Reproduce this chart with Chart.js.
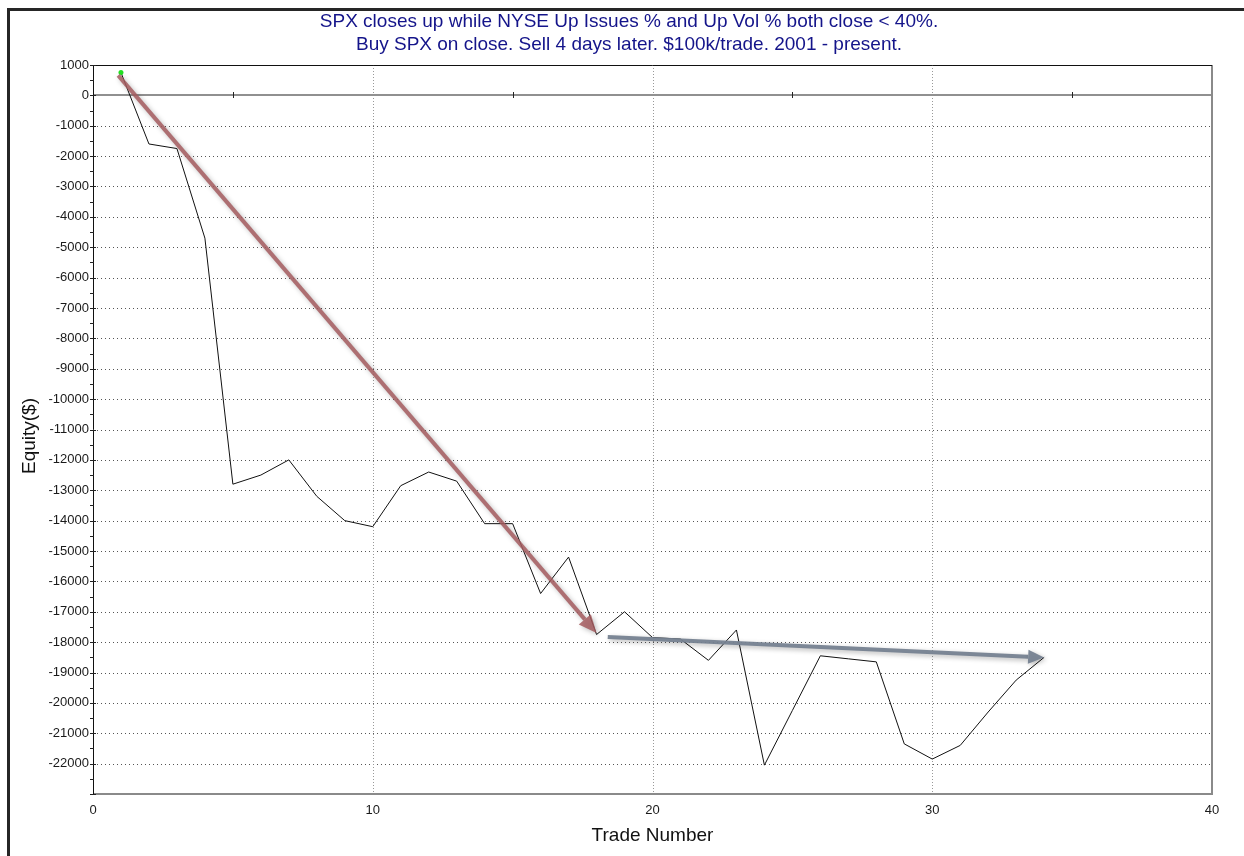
<!DOCTYPE html>
<html>
<head>
<meta charset="utf-8">
<script src="https://cdn.jsdelivr.net/npm/chart.js@4/dist/chart.umd.min.js"></script>
<style>
  html, body { margin: 0; padding: 0; background: #fff; }
  #wrap { width: 1244px; height: 856px; position: relative; }
</style>
</head>
<body>
<div id="wrap"><canvas id="equityChart" width="1244" height="856"></canvas></div>
<script>
// ---- data ----
const trades = [1, 2, 3, 4, 5, 6, 7, 8, 9, 10, 11, 12, 13, 14, 15, 16, 17,
  18, 19, 20, 21, 22, 23, 24, 25, 26, 27, 28, 29, 30, 31, 32, 33, 34];
const equity = [750, -1600, -1750, -4700, -12800, -12500, -12000, -13200, -14000, -14200,
  -12850, -12400, -12700, -14100, -14100, -16400, -15200, -17750, -17000, -17850,
  -17900, -18600, -17600, -22050, -20250, -18450, -18550, -18650, -21350, -21850,
  -21400, -20300, -19250, -18500];

const titleLines = [
  'SPX closes up while NYSE Up Issues % and Up Vol % both close < 40%.',
  'Buy SPX on close. Sell 4 days later. $100k/trade. 2001 - present.'
];
const xTitle = 'Trade Number';
const yTitle = 'Equity($)';

// annotation arrows (trade number, equity)
const redArrowX = [0.9, 18.0];
const redArrowY = [660, -17700];
const greyArrowX = [18.4, 34.0];
const greyArrowY = [-17830, -18510];

const xTicks = [0, 10, 20, 30, 40];
const yMin = -23000, yMax = 1000;

// ---- helpers ----
function drawArrow(ctx, x1, y1, x2, y2, color, width, headLen, headHalf) {
  const ang = Math.atan2(y2 - y1, x2 - x1);
  const bx = x2 - headLen * Math.cos(ang);
  const by = y2 - headLen * Math.sin(ang);
  ctx.save();
  ctx.shadowColor = 'rgba(0,0,0,0.3)';
  ctx.shadowBlur = 5;
  ctx.shadowOffsetX = 2;
  ctx.shadowOffsetY = 2;
  ctx.strokeStyle = color;
  ctx.fillStyle = color;
  ctx.lineWidth = width;
  ctx.lineCap = 'butt';
  ctx.beginPath();
  ctx.moveTo(x1, y1);
  ctx.lineTo(bx, by);
  ctx.stroke();
  ctx.beginPath();
  ctx.moveTo(x2, y2);
  ctx.lineTo(bx + headHalf * Math.sin(ang), by - headHalf * Math.cos(ang));
  ctx.lineTo(bx - headHalf * Math.sin(ang), by + headHalf * Math.cos(ang));
  ctx.closePath();
  ctx.fill();
  ctx.restore();
}

// grid, frame and small ticks under the line
const backPlugin = {
  id: 'backPlugin',
  beforeDatasetsDraw(chart) {
    const { ctx, chartArea: a, scales: { x, y } } = chart;
    ctx.save();
    // horizontal dotted grid
    ctx.strokeStyle = '#555';
    ctx.lineWidth = 1;
    ctx.setLineDash([1, 3]);
    for (let v = -22000; v <= 0; v += 1000) {
      if (v === 0) continue;
      const py = Math.round(y.getPixelForValue(v)) + 0.5;
      ctx.beginPath();
      ctx.moveTo(a.left, py);
      ctx.lineTo(a.right, py);
      ctx.stroke();
    }
    // vertical dotted grid
    ctx.strokeStyle = '#999';
    ctx.setLineDash([1, 2]);
    [10, 20, 30].forEach(v => {
      const px = Math.round(x.getPixelForValue(v)) + 0.5;
      ctx.beginPath();
      ctx.moveTo(px, a.top);
      ctx.lineTo(px, a.bottom);
      ctx.stroke();
    });
    ctx.setLineDash([]);
    // zero line
    const zy = Math.round(y.getPixelForValue(0));
    ctx.strokeStyle = '#909090';
    ctx.lineWidth = 2;
    ctx.beginPath();
    ctx.moveTo(a.left, zy);
    ctx.lineTo(a.right, zy);
    ctx.stroke();
    // ticks on zero line
    ctx.strokeStyle = '#222';
    ctx.lineWidth = 1;
    [5, 15, 25, 35].forEach(v => {
      const px = Math.round(x.getPixelForValue(v)) + 0.5;
      ctx.beginPath();
      ctx.moveTo(px, zy - 3);
      ctx.lineTo(px, zy + 3);
      ctx.stroke();
    });
    // right + bottom border (grey)
    ctx.strokeStyle = '#8a8a8a';
    ctx.lineWidth = 2;
    ctx.beginPath();
    ctx.moveTo(a.right, a.top);
    ctx.lineTo(a.right, a.bottom);
    ctx.lineTo(a.left, a.bottom);
    ctx.stroke();
    // top + left border (black)
    ctx.strokeStyle = '#111';
    ctx.lineWidth = 1;
    ctx.beginPath();
    ctx.moveTo(a.right, a.top + 0.5);
    ctx.lineTo(a.left + 0.5, a.top + 0.5);
    ctx.lineTo(a.left + 0.5, a.bottom);
    ctx.stroke();
    // y ticks every 500
    ctx.strokeStyle = '#222';
    for (let v = yMin; v <= yMax; v += 500) {
      const py = Math.round(y.getPixelForValue(v)) + 0.5;
      const major = v % 1000 === 0;
      ctx.beginPath();
      ctx.moveTo(a.left - 3, py);
      ctx.lineTo(a.left + (major ? 3 : 1), py);
      ctx.stroke();
    }
    ctx.restore();
  },
  afterDatasetsDraw(chart) {
    const { ctx, scales: { x, y } } = chart;
    drawArrow(ctx,
      x.getPixelForValue(redArrowX[0]), y.getPixelForValue(redArrowY[0]),
      x.getPixelForValue(redArrowX[1]), y.getPixelForValue(redArrowY[1]),
      'rgba(165,92,95,0.85)', 4, 18, 8);
    drawArrow(ctx,
      x.getPixelForValue(greyArrowX[0]), y.getPixelForValue(greyArrowY[0]),
      x.getPixelForValue(greyArrowX[1]), y.getPixelForValue(greyArrowY[1]),
      'rgba(118,130,145,0.95)', 4, 16, 7);
  },
  afterDraw(chart) {
    const { ctx, chartArea: a } = chart;
    ctx.save();
    // title
    ctx.fillStyle = '#14148a';
    ctx.font = '19px "Liberation Sans", Arial, sans-serif';
    ctx.textAlign = 'center';
    ctx.textBaseline = 'middle';
    ctx.fillText(titleLines[0], 629, 22);
    ctx.fillText(titleLines[1], 629, 45);
    // axis titles
    ctx.fillStyle = '#111';
    ctx.font = '19px "Liberation Sans", Arial, sans-serif';
    ctx.fillText(xTitle, (a.left + a.right) / 2, 836);
    ctx.translate(30, 436);
    ctx.rotate(-Math.PI / 2);
    ctx.fillText(yTitle, 0, 0);
    ctx.restore();
    // window frame (top + left)
    ctx.save();
    ctx.fillStyle = '#262626';
    ctx.fillRect(7, 8, 1244 - 7, 3);
    ctx.fillRect(7, 8, 3, 856 - 8);
    ctx.restore();
  }
};

const ctxEl = document.getElementById('equityChart');
new Chart(ctxEl, {
  type: 'line',
  data: {
    datasets: [{
      label: 'Equity',
      data: trades.map((t, i) => ({ x: t, y: equity[i] })),
      borderColor: '#111',
      borderWidth: 1,
      tension: 0,
      fill: false,
      pointRadius: trades.map((t, i) => i === 0 ? 2.5 : 0),
      pointBackgroundColor: '#22e022',
      pointBorderColor: '#22e022',
      pointBorderWidth: 0
    }]
  },
  options: {
    responsive: false,
    animation: false,
    devicePixelRatio: 1,
    layout: { padding: { left: 0, right: 32, top: 65, bottom: 0 } },
    plugins: {
      legend: { display: false },
      tooltip: { enabled: false },
      title: { display: false }
    },
    scales: {
      x: {
        type: 'linear',
        min: 0,
        max: 40,
        afterFit: s => { s.height = 62; },
        afterBuildTicks: s => { s.ticks = xTicks.map(v => ({ value: v })); },
        grid: { display: false, drawTicks: false },
        border: { display: false },
        ticks: {
          padding: 9,
          color: '#1a1a1a',
          font: { family: '"Liberation Sans", Arial, sans-serif', size: 13 },
          maxRotation: 0
        }
      },
      y: {
        type: 'linear',
        min: yMin,
        max: yMax,
        afterFit: s => { s.width = 93; },
        grid: { display: false, drawTicks: false },
        border: { display: false },
        ticks: {
          stepSize: 1000,
          padding: 4,
          color: '#1a1a1a',
          font: { family: '"Liberation Sans", Arial, sans-serif', size: 13 },
          callback: v => v === yMin ? '' : String(v)
        }
      }
    }
  },
  plugins: [backPlugin]
});
</script>
</body>
</html>
